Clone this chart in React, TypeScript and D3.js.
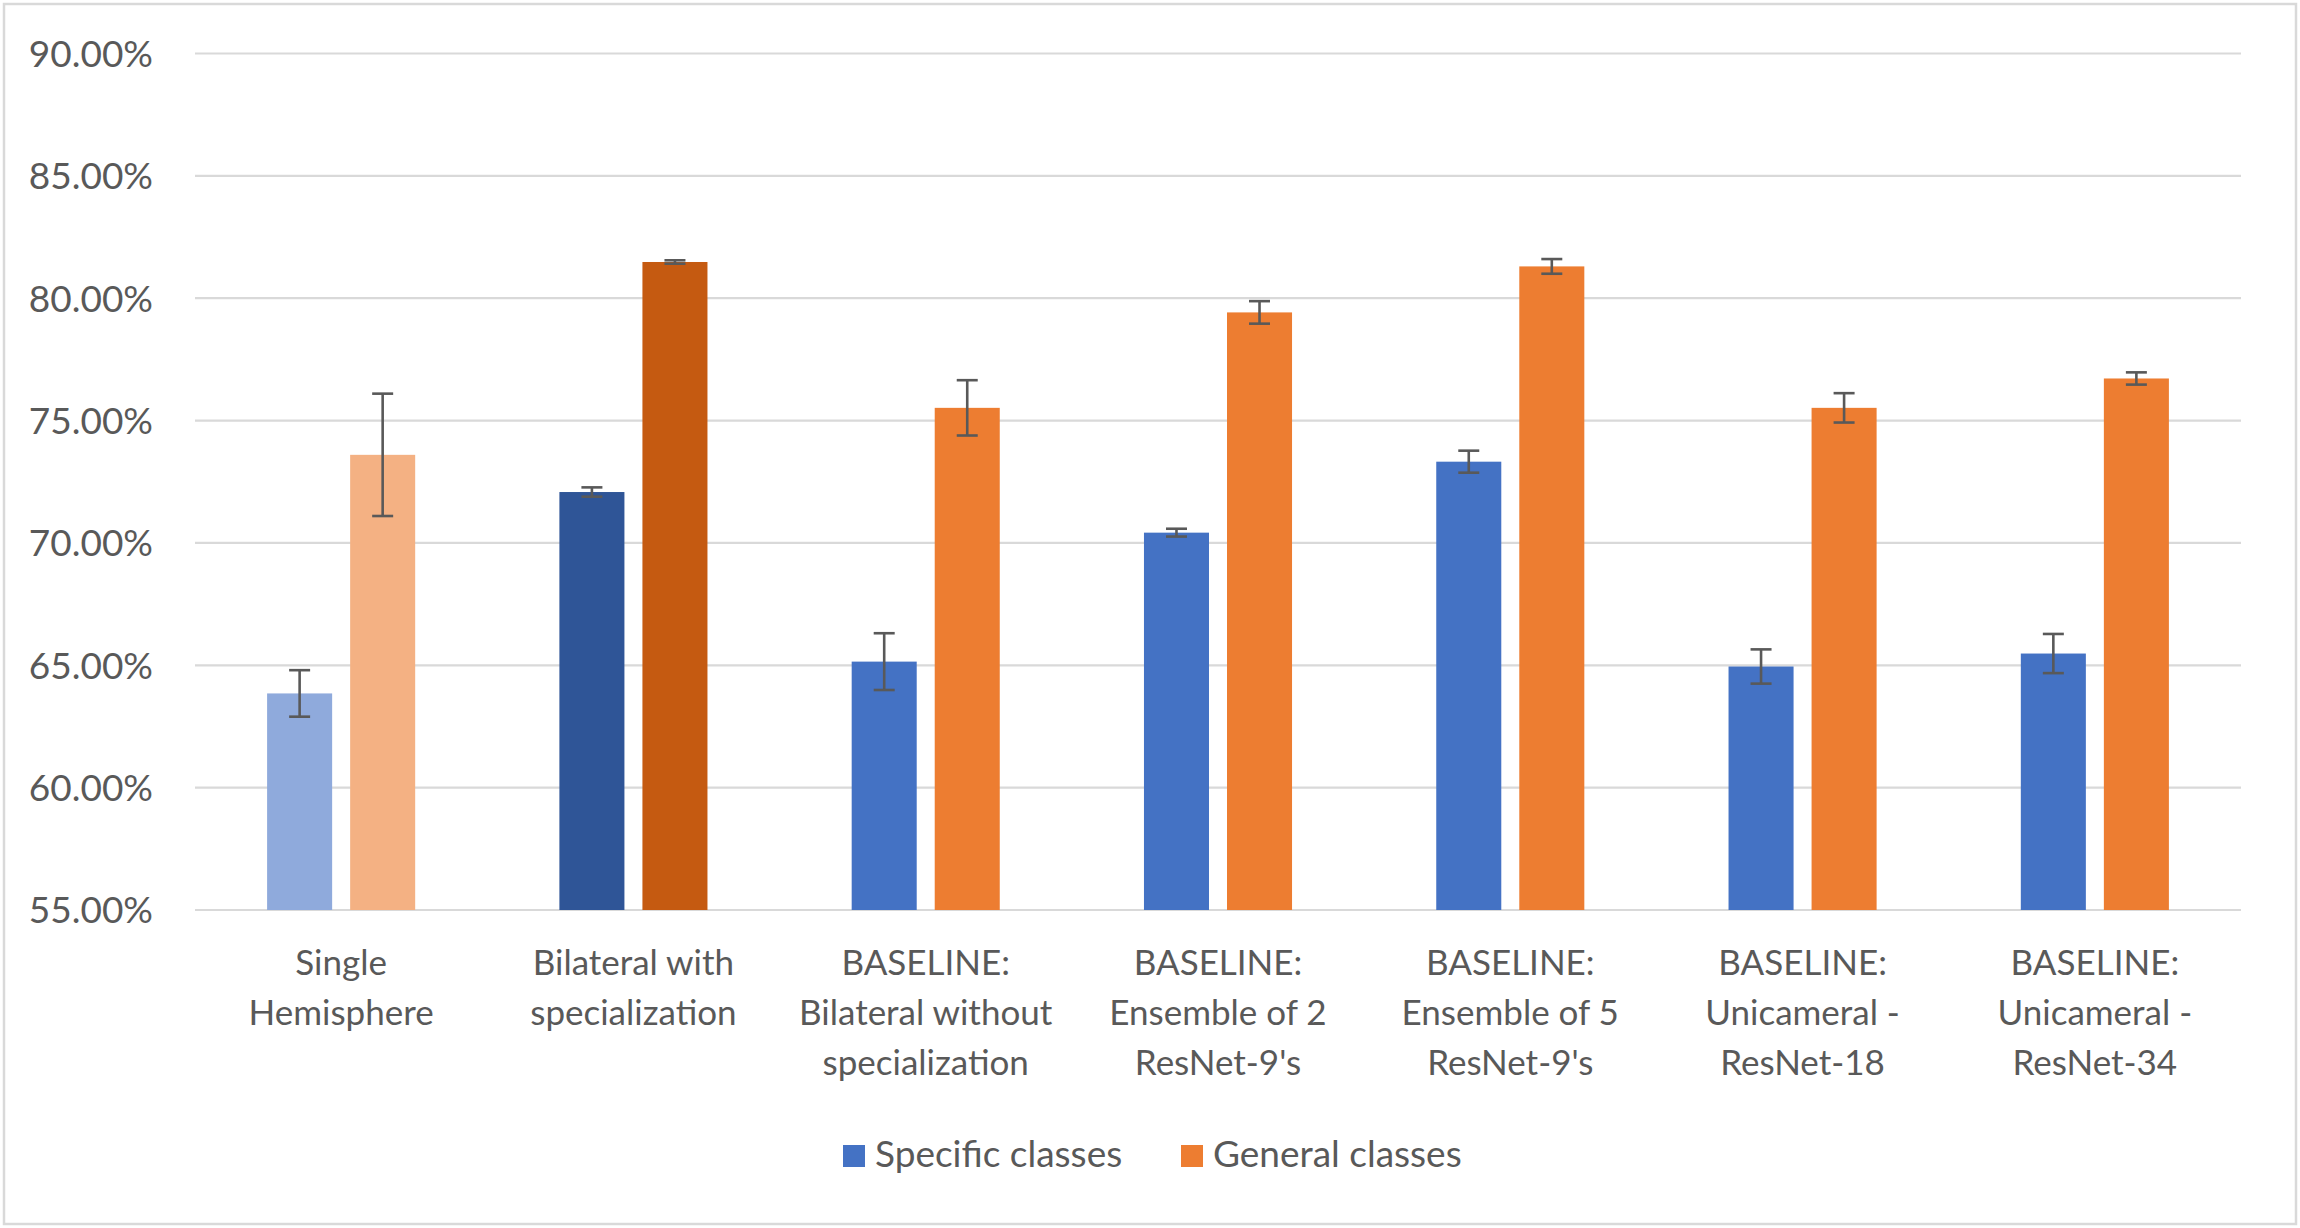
import * as d3 from 'd3';
import React from 'react';

// category labels, already split into the lines shown under the axis
const categories = [
  ['Single', 'Hemisphere'],
  ['Bilateral with', 'specialization'],
  ['BASELINE:', 'Bilateral without', 'specialization'],
  ['BASELINE:', 'Ensemble of 2', "ResNet-9's"],
  ['BASELINE:', 'Ensemble of 5', "ResNet-9's"],
  ['BASELINE:', 'Unicameral -', 'ResNet-18'],
  ['BASELINE:', 'Unicameral -', 'ResNet-34'],
];

const seriesNames = ['Specific classes', 'General classes'];

// accuracy in %, with +/- error
const specificValues = [63.85, 72.08, 65.15, 70.42, 73.32, 64.95, 65.48];
const specificErrors = [0.95, 0.19, 1.16, 0.16, 0.45, 0.7, 0.8];
const generalValues = [73.6, 81.48, 75.52, 79.42, 81.3, 75.52, 76.72];
const generalErrors = [2.5, 0.07, 1.13, 0.46, 0.3, 0.6, 0.25];

const yTicks = [0.55, 0.6, 0.65, 0.7, 0.75, 0.8, 0.85, 0.9];

const W = 2300;
const H = 1228;
const plot = { left: 195, right: 2241, top: 53.5, bottom: 910 };
const FONT = 'Lato, "Open Sans", sans-serif';
const TEXT = '#595959';
const GRID = '#D9D9D9';

// per-category colours (first two groups are highlighted)
const specificColors = ['#8FAADC', '#2F5597', '#4472C4', '#4472C4', '#4472C4', '#4472C4', '#4472C4'];
const generalColors = ['#F4B183', '#C55A11', '#ED7D31', '#ED7D31', '#ED7D31', '#ED7D31', '#ED7D31'];
const legendColors = ['#4472C4', '#ED7D31'];

export default function App() {
  const keys = categories.map((c) => c.join(' '));
  const x = d3.scaleBand<string>().domain(keys).range([plot.left, plot.right]).padding(0);
  const y = d3.scaleLinear().domain([0.55, 0.9]).range([plot.bottom, plot.top]);
  const fmt = d3.format('.2%');

  const barW = x.bandwidth() * 0.2225;
  const gap = x.bandwidth() * 0.0616;
  const capW = 21;

  const series = [
    { values: specificValues, errors: specificErrors, colors: specificColors, offset: -gap / 2 - barW },
    { values: generalValues, errors: generalErrors, colors: generalColors, offset: gap / 2 },
  ];

  return (
    <svg width={W} height={H} style={{ position: 'absolute', left: 0, top: 0 }} fontFamily={FONT}>
      <rect x={4} y={4} width={W - 8} height={H - 8} fill="#fff" stroke={GRID} strokeWidth={2.5} />

      {yTicks.map((t) => (
        <g key={`tick-${t}`}>
          <line x1={plot.left} x2={plot.right} y1={y(t)} y2={y(t)} stroke={GRID} strokeWidth={2.2} />
          <text x={153} y={y(t)} dy="0.36em" textAnchor="end" fontSize={37} fill={TEXT}>
            {fmt(t)}
          </text>
        </g>
      ))}

      {series.map((s, si) => (
        <g key={`series-${si}`}>
          {keys.map((k, i) => {
            const v = s.values[i] / 100;
            const e = s.errors[i] / 100;
            const bx = (x(k) ?? 0) + x.bandwidth() / 2 + s.offset;
            const cx = bx + barW / 2;
            return (
              <g key={`bar-${si}-${i}`}>
                <rect x={bx} y={y(v)} width={barW} height={y(0.55) - y(v)} fill={s.colors[i]} />
                <g stroke="#595959" strokeWidth={2.6}>
                  <line x1={cx} x2={cx} y1={y(v + e)} y2={y(v - e)} />
                  <line x1={cx - capW / 2} x2={cx + capW / 2} y1={y(v + e)} y2={y(v + e)} />
                  <line x1={cx - capW / 2} x2={cx + capW / 2} y1={y(v - e)} y2={y(v - e)} />
                </g>
              </g>
            );
          })}
        </g>
      ))}

      {categories.map((lines, i) => (
        <text
          key={`cat-${i}`}
          x={(x(keys[i]) ?? 0) + x.bandwidth() / 2}
          y={975}
          textAnchor="middle"
          fontSize={35}
          fill={TEXT}
        >
          {lines.map((line, li) => (
            <tspan key={li} x={(x(keys[i]) ?? 0) + x.bandwidth() / 2} y={975 + li * 50}>
              {line}
            </tspan>
          ))}
        </text>
      ))}

      {seriesNames.map((name, i) => {
        const lx = [843, 1181][i];
        return (
          <g key={`legend-${i}`}>
            <rect x={lx} y={1145} width={22} height={22} fill={legendColors[i]} />
            <text x={lx + 32} y={1167} fontSize={37} fill={TEXT}>
              {name}
            </text>
          </g>
        );
      })}
    </svg>
  );
}
